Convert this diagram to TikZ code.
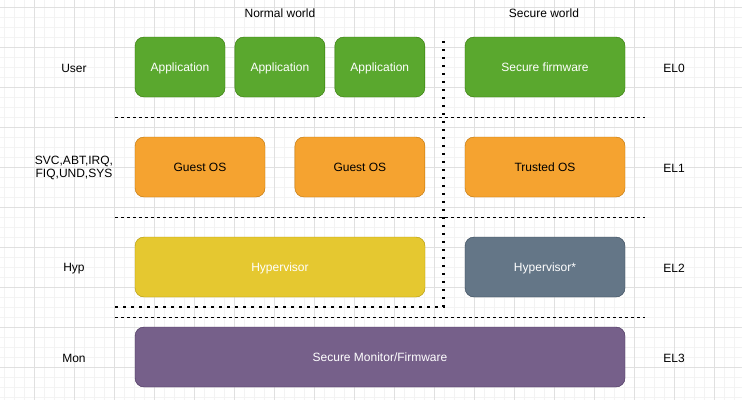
\documentclass[tikz,border=0pt]{standalone}
\usepackage{fontspec}
\setmainfont{Liberation Sans}
\usepackage{xcolor}
\usepackage{tikz}
\usetikzlibrary{positioning}
\definecolor{gridminor}{HTML}{F3F3F3}
\definecolor{gridmajor}{HTML}{E0E0E0}
\definecolor{appfill}{HTML}{5AA82E}
\definecolor{appdraw}{HTML}{2D7600}
\definecolor{osfill}{HTML}{F5A330}
\definecolor{osdraw}{HTML}{BD7000}
\definecolor{hypfill}{HTML}{E5C830}
\definecolor{hypdraw}{HTML}{B09500}
\definecolor{shypfill}{HTML}{647687}
\definecolor{shypdraw}{HTML}{314354}
\definecolor{monfill}{HTML}{76608A}
\definecolor{mondraw}{HTML}{432D57}
\tikzset{
    layerbox/.style={
        rectangle,
        rounded corners=9pt,
        thin,
        minimum height=60pt,
        inner sep=0pt,
        text height=11.5pt,
        text depth=2.7pt,
        font=\fontsize{12}{14}\selectfont
    },
    app/.style={
        layerbox,
        draw=appdraw,
        fill=appfill,
        text=white,
        minimum width=90pt
    },
    guest/.style={
        layerbox,
        draw=osdraw,
        fill=osfill,
        text=black,
        minimum width=130pt
    },
    hyper/.style={
        layerbox,
        draw=hypdraw,
        fill=hypfill,
        text=white
    },
    shyper/.style={
        layerbox,
        draw=shypdraw,
        fill=shypfill,
        text=white
    },
    monitor/.style={
        layerbox,
        draw=mondraw,
        fill=monfill,
        text=white
    },
    lbl/.style={
        font=\fontsize{12}{13}\selectfont,
        align=center,
        inner sep=0pt
    },
    levelsep/.style={
        draw=black,
        line width=1pt,
        dash pattern=on 3pt off 3pt
    },
    worldsep/.style={
        draw=black,
        line width=2.2pt,
        dash pattern=on 2.2pt off 5.8pt
    }
}

\begin{document}
\begin{tikzpicture}[x=1pt, y=-1pt]

% Canvas
\useasboundingbox (0,0) rectangle (742,400);
\fill[white] (0,0) rectangle (742,400);
\foreach \gx in {4.5,14.5,...,742} \draw[gridminor, line width=1pt] (\gx,0) -- (\gx,400);
\foreach \gy in {7,17,...,400} \draw[gridminor, line width=1pt] (0,\gy) -- (742,\gy);
\foreach \gx in {34.5,74.5,...,742} \draw[gridmajor, line width=1pt] (\gx,0) -- (\gx,400);
\foreach \gy in {7,47,...,400} \draw[gridmajor, line width=1pt] (0,\gy) -- (742,\gy);

% Worlds
\node[lbl] (normal) at (280,13) {Normal world};
\node[lbl] (secure) at (544,13) {Secure world};

% EL0
\node[app] (app0) at (180,67) {Application};
\node[app, right=9.5pt of app0] (app1) {Application};
\node[app, right=9.5pt of app1] (app2) {Application};
\node[app, minimum width=160pt] (secfw) at (545,67) {Secure firmware};

% EL1
\node[guest] (gos0) at (200,167) {Guest OS};
\node[guest, right=29.5pt of gos0] (gos1) {Guest OS};
\node[guest, minimum width=160pt] (tos) at (545,167) {Trusted OS};

% EL2
\node[hyper, minimum width=290pt] (hyp) at (280,267) {Hypervisor};
\node[shyper, minimum width=160pt] (shyp) at (545,267) {Hypervisor*};

% EL3
\node[monitor, minimum width=490pt] (mon) at (380,357) {Secure Monitor/Firmware};

% Modes
\node[lbl] (user) at (74,68.5) {User};
\node[lbl] (svc) at (74,168) {SVC,ABT,IRQ,\\FIQ,UND,SYS};
\node[lbl] (hypmode) at (74,268.5) {Hyp};
\node[lbl] (monmode) at (74,358.5) {Mon};

% Levels
\node[lbl] (el0) at (674,68.5) {EL0};
\node[lbl] (el1) at (674,168.5) {EL1};
\node[lbl] (el2) at (674,268.5) {EL2};
\node[lbl] (el3) at (674,358.5) {EL3};

% Separators
\coordinate (sep0l) at (115,117);
\coordinate (sep0r) at (645,117);
\coordinate (sep1l) at (115,217);
\coordinate (sep1r) at (645,217);
\coordinate (sep2l) at (115,317);
\coordinate (sep2r) at (645,317);
\draw[levelsep] (sep0l) -- (sep0r);
\draw[levelsep] (sep1l) -- (sep1r);
\draw[levelsep] (sep2l) -- (sep2r);

\coordinate (wtop) at (443.5,41);
\coordinate (wcorner) at (443.5,307);
\coordinate (wleft) at (115,307);
\draw[worldsep] (wtop) -- (wcorner) -- (wleft);

\end{tikzpicture}
\end{document}
